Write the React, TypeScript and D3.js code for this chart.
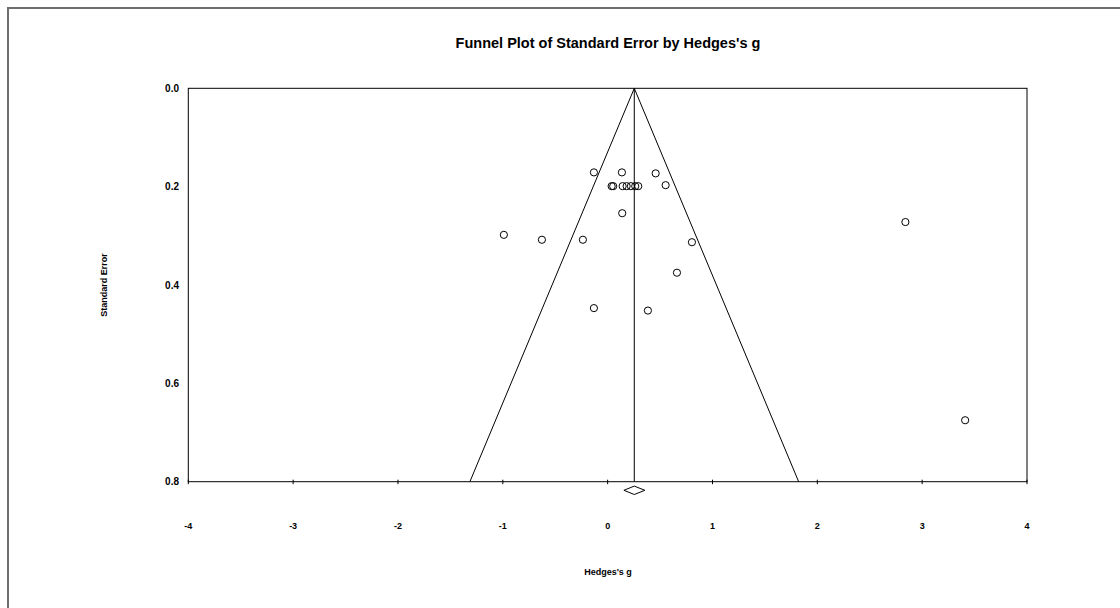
import React from "react";
import * as d3 from "d3";

// Study-level effect sizes (Hedges's g) and their standard errors
const hedgesG = [
  -0.131, 0.136, 0.458, 0.553,
  0.038, 0.053, 0.143, 0.181, 0.222, 0.263, 0.292,
  0.139, -0.131, 0.384,
  -0.99, -0.627, -0.236, 0.804, 0.661, 2.84, 3.41,
];
const standardErrors = [
  0.171, 0.171, 0.173, 0.197,
  0.199, 0.199, 0.199, 0.199, 0.199, 0.199, 0.199,
  0.254, 0.447, 0.452,
  0.298, 0.308, 0.308, 0.313, 0.375, 0.272, 0.675,
];

// Pooled estimate and its confidence interval (diamond)
const pooledG = 0.254;
const pooledLower = 0.155;
const pooledUpper = 0.355;

const xTicks = [-4, -3, -2, -1, 0, 1, 2, 3, 4];
const yTicks = [0.0, 0.2, 0.4, 0.6, 0.8];

const W = 1120;
const H = 608;
const left = 188.3;
const right = 1027;
const top = 88.3;
const bottom = 481.7;

export default function App() {
  const x = d3.scaleLinear().domain([-4, 4]).range([left, right]);
  const y = d3.scaleLinear().domain([0, 0.8]).range([top, bottom]);
  const seMax = 0.8;

  const funnel = d3.line<[number, number]>()
    .x((d) => x(d[0]))
    .y((d) => y(d[1]))([
    [pooledG - 1.96 * seMax, seMax],
    [pooledG, 0],
    [pooledG + 1.96 * seMax, seMax],
  ]);

  const dy = 490.3;
  const dh = 4.2;
  const diamond = `M${x(pooledLower)},${dy} L${x(pooledG)},${dy - dh} L${x(pooledUpper)},${dy} L${x(pooledG)},${dy + dh} Z`;

  const font = "'Liberation Sans', Arial, sans-serif";

  return (
    <svg
      width={W}
      height={H}
      style={{ position: "absolute", left: 0, top: 0, display: "block", background: "#fff" }}
    >
      {/* outer frame */}
      <rect x={8} y={8} width={W + 20} height={H + 20} fill="none" stroke="#6e6e6e" strokeWidth={2} />

      <text
        x={608}
        y={48}
        textAnchor="middle"
        fontFamily={font}
        fontWeight="bold"
        fontSize={14.5}
      >
        Funnel Plot of Standard Error by Hedges's g
      </text>

      {/* plot frame */}
      <rect x={left} y={top} width={right - left} height={bottom - top} fill="none" stroke="#000" strokeWidth={1} />

      {/* x ticks */}
      {xTicks.map((t) => (
        <g key={`xt${t}`}>
          <line x1={x(t)} x2={x(t)} y1={bottom - 2} y2={bottom + 2.5} stroke="#000" strokeWidth={1} />
          <text
            x={x(t)}
            y={529}
            textAnchor="middle"
            fontFamily={font}
            fontWeight="bold"
            fontSize={9}
          >
            {t}
          </text>
        </g>
      ))}

      {/* y tick labels */}
      {yTicks.map((t) => (
        <text
          key={`yt${t}`}
          x={179}
          y={y(t) + 3.5}
          textAnchor="end"
          fontFamily={font}
          fontWeight="bold"
          fontSize={10}
        >
          {t.toFixed(1)}
        </text>
      ))}

      <text x={608} y={575} textAnchor="middle" fontFamily={font} fontWeight="bold" fontSize={9}>
        Hedges's g
      </text>
      <text
        transform={`translate(107,${(top + bottom) / 2}) rotate(-90)`}
        textAnchor="middle"
        fontFamily={font}
        fontWeight="bold"
        fontSize={9}
      >
        Standard Error
      </text>

      {/* pooled effect line and funnel */}
      <line x1={x(pooledG)} x2={x(pooledG)} y1={top} y2={bottom} stroke="#000" strokeWidth={1} />
      <path d={funnel ?? ""} fill="none" stroke="#000" strokeWidth={1} />

      {/* studies */}
      {hedgesG.map((g, i) => (
        <circle
          key={`p${i}`}
          cx={x(g)}
          cy={y(standardErrors[i])}
          r={3.6}
          fill="none"
          stroke="#000"
          strokeWidth={1}
        />
      ))}

      <path d={diamond} fill="#fff" stroke="#000" strokeWidth={1} />
    </svg>
  );
}
